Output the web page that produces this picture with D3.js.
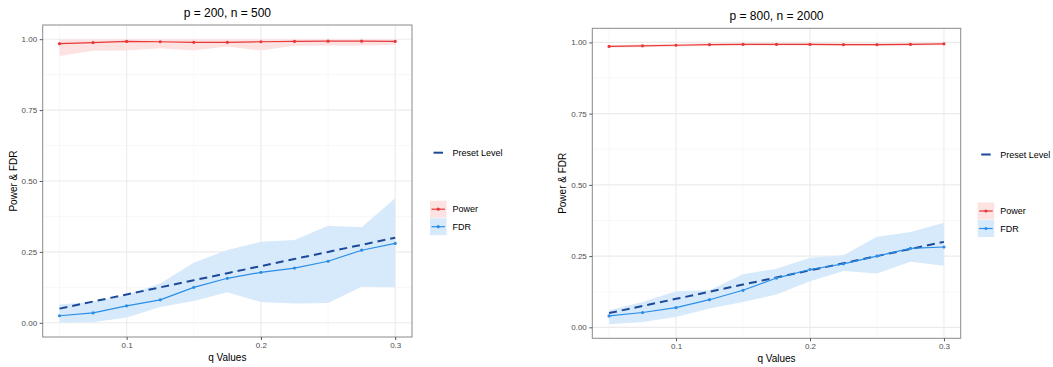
<!DOCTYPE html>
<html>
<head>
<meta charset="utf-8">
<script src="https://cdn.jsdelivr.net/npm/d3@7"></script>
<style>
  body { margin: 0; background: #fff; }
  svg { font-family: "Liberation Sans", Arial, sans-serif; }
</style>
</head>
<body>
<svg id="chart" width="1053" height="367"></svg>
<script>
// q values shared by both panels
const qValues = [0.05, 0.075, 0.1, 0.125, 0.15, 0.175, 0.2, 0.225, 0.25, 0.275, 0.3];
const xTicks = [0.1, 0.2, 0.3];
const xMinor = [0.05, 0.15, 0.25];
const yTicks = [0, 0.25, 0.5, 0.75, 1];
const yMinor = [0.125, 0.375, 0.625, 0.875];

// p = 200, n = 500
const powerA      = [0.984, 0.988, 0.992, 0.991, 0.989, 0.989, 0.991, 0.992, 0.993, 0.993, 0.992];
const powerLowA   = [0.941, 0.959, 0.960, 0.968, 0.960, 0.974, 0.960, 0.977, 0.978, 0.978, 0.980];
const powerHighA  = [0.999, 0.999, 1.000, 1.000, 1.000, 1.000, 1.000, 1.000, 1.000, 1.000, 1.000];
const fdrA        = [0.025, 0.035, 0.060, 0.081, 0.125, 0.157, 0.178, 0.193, 0.217, 0.256, 0.280];
const fdrLowA     = [0.000, 0.002, 0.019, 0.056, 0.077, 0.108, 0.073, 0.068, 0.070, 0.127, 0.125];
const fdrHighA    = [0.065, 0.074, 0.098, 0.139, 0.212, 0.257, 0.286, 0.292, 0.342, 0.337, 0.439];

// p = 800, n = 2000
const powerB      = [0.986, 0.988, 0.990, 0.992, 0.993, 0.993, 0.993, 0.992, 0.992, 0.993, 0.995];
const powerLowB   = [0.981, 0.983, 0.985, 0.987, 0.988, 0.988, 0.988, 0.987, 0.987, 0.988, 0.990];
const powerHighB  = [0.991, 0.993, 0.995, 0.997, 0.998, 0.998, 0.998, 0.997, 0.997, 0.998, 1.000];
const fdrB        = [0.040, 0.052, 0.069, 0.097, 0.130, 0.173, 0.203, 0.223, 0.250, 0.277, 0.282];
const fdrLowB     = [0.011, 0.019, 0.036, 0.066, 0.089, 0.115, 0.162, 0.198, 0.189, 0.230, 0.216];
const fdrHighB    = [0.060, 0.089, 0.127, 0.130, 0.186, 0.206, 0.244, 0.253, 0.318, 0.335, 0.367];

const RED = '#e6393a', RED_FILL = '#fde2e2';
const BLUE = '#2a8ee6', BLUE_FILL = '#d7eafb';
const PRESET = '#1d4a98';

const svg = d3.select('#chart');

function drawPanel(cfg) {
    const { left, right, top, bottom } = cfg.box;
    const allY = [].concat(cfg.powerLow, cfg.powerHigh, cfg.fdrLow, cfg.fdrHigh, qValues);
    const yMin = d3.min(allY), yMax = d3.max(allY);
    const yPad = (yMax - yMin) * 0.05;
    const xPad = (0.3 - 0.05) * 0.05;

    const x = d3.scaleLinear().domain([0.05 - xPad, 0.3 + xPad]).range([left, right]);
    const y = d3.scaleLinear().domain([yMin - yPad, yMax + yPad]).range([bottom, top]);

    const g = svg.append('g');

    // minor grid
    g.selectAll('.ygm').data(yMinor).enter().append('line')
        .attr('x1', left).attr('x2', right)
        .attr('y1', d => y(d)).attr('y2', d => y(d))
        .attr('stroke', '#f4f4f4').attr('stroke-width', 0.6);
    g.selectAll('.xgm').data(xMinor).enter().append('line')
        .attr('y1', top).attr('y2', bottom)
        .attr('x1', d => x(d)).attr('x2', d => x(d))
        .attr('stroke', '#f4f4f4').attr('stroke-width', 0.6);
    // major grid
    g.selectAll('.yg').data(yTicks).enter().append('line')
        .attr('x1', left).attr('x2', right)
        .attr('y1', d => y(d)).attr('y2', d => y(d))
        .attr('stroke', '#ebebeb').attr('stroke-width', 1.1);
    g.selectAll('.xg').data(xTicks).enter().append('line')
        .attr('y1', top).attr('y2', bottom)
        .attr('x1', d => x(d)).attr('x2', d => x(d))
        .attr('stroke', '#ebebeb').attr('stroke-width', 1.1);

    const band = (lo, hi) => d3.area()
        .x((d, i) => x(qValues[i]))
        .y0((d, i) => y(lo[i]))
        .y1((d, i) => y(hi[i]));

    // ribbons
    g.append('path').datum(qValues)
        .attr('d', band(cfg.powerLow, cfg.powerHigh))
        .attr('fill', RED_FILL);
    g.append('path').datum(qValues)
        .attr('d', band(cfg.fdrLow, cfg.fdrHigh))
        .attr('fill', BLUE_FILL);

    const line = vals => d3.line()
        .x((d, i) => x(qValues[i]))
        .y((d, i) => y(vals[i]));

    // preset level (y = q)
    g.append('path').datum(qValues)
        .attr('d', line(qValues))
        .attr('fill', 'none')
        .attr('stroke', PRESET)
        .attr('stroke-width', 2)
        .attr('stroke-dasharray', '8,5');

    [[cfg.power, RED], [cfg.fdr, BLUE]].forEach(([vals, col]) => {
        g.append('path').datum(qValues)
            .attr('d', line(vals))
            .attr('fill', 'none')
            .attr('stroke', col)
            .attr('stroke-width', 1.2);
        g.selectAll(null).data(vals).enter().append('circle')
            .attr('cx', (d, i) => x(qValues[i]))
            .attr('cy', d => y(d))
            .attr('r', 1.6)
            .attr('fill', col);
    });

    // border
    g.append('rect')
        .attr('x', left).attr('y', top)
        .attr('width', right - left).attr('height', bottom - top)
        .attr('fill', 'none').attr('stroke', '#8a8a8a').attr('stroke-width', 1);

    // axes
    const yAxis = g.append('g')
        .attr('transform', `translate(${left},0)`)
        .call(d3.axisLeft(y).tickValues(yTicks).tickFormat(d3.format('.2f')).tickSize(3).tickPadding(2.5));
    const xAxis = g.append('g')
        .attr('transform', `translate(0,${bottom})`)
        .call(d3.axisBottom(x).tickValues(xTicks).tickFormat(d3.format('.1f')).tickSize(3).tickPadding(2));
    [yAxis, xAxis].forEach(a => {
        a.select('.domain').remove();
        a.selectAll('line').attr('stroke', '#555');
        a.selectAll('text').attr('fill', '#4d4d4d').style('font-size', '8px')
            .style('font-family', '"Liberation Sans", Arial, sans-serif');
    });

    const cx = (left + right) / 2;
    g.append('text')
        .attr('x', cx).attr('y', top - 8)
        .attr('text-anchor', 'middle')
        .style('font-size', '12px').attr('fill', '#000')
        .text(cfg.title);
    g.append('text')
        .attr('x', cx).attr('y', bottom + 23.5)
        .attr('text-anchor', 'middle')
        .style('font-size', '10px').attr('fill', '#000')
        .text('q Values');
    g.append('text')
        .attr('transform', `translate(${cfg.yLabelX},${(top + bottom) / 2}) rotate(-90)`)
        .attr('text-anchor', 'middle')
        .style('font-size', '10px').attr('fill', '#000')
        .text('Power & FDR');

    // legend
    const lx = cfg.legend.x, ly = cfg.legend.y;
    const leg = g.append('g');
    leg.append('line')
        .attr('x1', lx + 3.5).attr('x2', lx + 13)
        .attr('y1', ly).attr('y2', ly)
        .attr('stroke', PRESET).attr('stroke-width', 2);
    leg.append('text')
        .attr('x', lx + 22.5).attr('y', ly + 3.2)
        .style('font-size', '9px').attr('fill', '#000')
        .text('Preset Level');

    [['Power', RED, RED_FILL], ['FDR', BLUE, BLUE_FILL]].forEach(([name, col, fill], i) => {
        const ky = ly + 48 + i * 17.5;
        leg.append('rect')
            .attr('x', lx).attr('y', ky)
            .attr('width', 16.5).attr('height', 17)
            .attr('fill', fill);
        leg.append('line')
            .attr('x1', lx + 1.5).attr('x2', lx + 15)
            .attr('y1', ky + 8.5).attr('y2', ky + 8.5)
            .attr('stroke', col).attr('stroke-width', 1.2);
        leg.append('circle')
            .attr('cx', lx + 8.25).attr('cy', ky + 8.5).attr('r', 1.6)
            .attr('fill', col);
        leg.append('text')
            .attr('x', lx + 22.5).attr('y', ky + 11.7)
            .style('font-size', '9px').attr('fill', '#000')
            .text(name);
    });
}

drawPanel({
    title: 'p = 200, n = 500',
    box: { left: 42.7, right: 412, top: 25, bottom: 337 },
    yLabelX: 16.5,
    legend: { x: 430, y: 152.7 },
    power: powerA, powerLow: powerLowA, powerHigh: powerHighA,
    fdr: fdrA, fdrLow: fdrLowA, fdrHigh: fdrHighA
});

drawPanel({
    title: 'p = 800, n = 2000',
    box: { left: 592.3, right: 960.7, top: 28.3, bottom: 338.3 },
    yLabelX: 566,
    legend: { x: 977.7, y: 154.5 },
    power: powerB, powerLow: powerLowB, powerHigh: powerHighB,
    fdr: fdrB, fdrLow: fdrLowB, fdrHigh: fdrHighB
});
</script>
</body>
</html>
